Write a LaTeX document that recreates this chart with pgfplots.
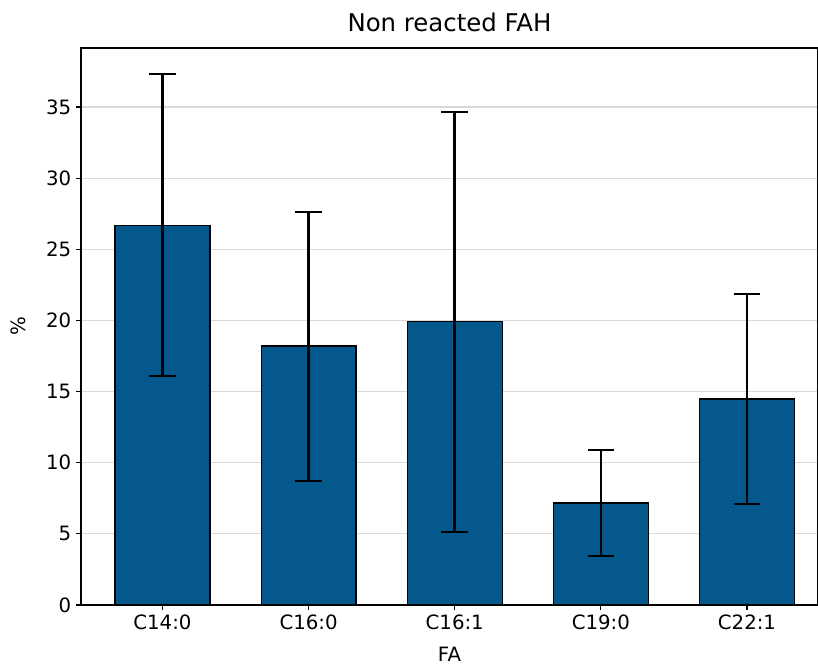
\documentclass[border=0pt]{standalone}
\usepackage{fontspec}
\setmainfont{DejaVu Sans}
\usepackage{pgfplots}
\pgfplotsset{compat=1.18}
\definecolor{barblue}{RGB}{4,88,140}
\begin{document}
\begin{tikzpicture}
\begin{axis}[
  scale only axis,
  width=552.75pt, height=417.75pt,
  xmin=-0.5575, xmax=4.486,
  ymin=0, ymax=39.15,
  xtick={0,1,2,3,4},
  xticklabels={C14:0,C16:0,C16:1,C19:0,C22:1},
  ytick={0,5,10,15,20,25,30,35},
  tick align=outside,
  xtick pos=bottom, ytick pos=left,
  major tick length=3.75pt,
  tick style={black, line width=0.9pt},
  ymajorgrids,
  grid style={gray!30, line width=0.8pt},
  axis line style={line width=0.9pt},
  ticklabel style={font=\fontsize{14.8}{17}\selectfont},
  /pgf/number format/assume math mode=true,
  title={Non reacted FAH},
  title style={font=\fontsize{18.3}{21}\selectfont, at={(axis description cs:0.5,1)}, anchor=center, yshift=13pt},
  xlabel={FA}, ylabel={\%},
  label style={font=\fontsize{14.8}{17}\selectfont},
  xlabel style={at={(axis description cs:0.5,0)}, anchor=center, yshift=-37pt},
  ylabel style={at={(axis description cs:0,0.5)}, anchor=center, rotate=0, yshift=47.25pt},
]
\addplot[ybar, bar width=0.65, fill=barblue, draw=black, line width=0.9pt,
  error bars/.cd, y dir=both, y explicit,
  error bar style={line width=2pt, black},
  error mark options={rotate=90, mark size=10pt, line width=1.5pt, black}]
  coordinates {
  (0,26.7) +- (0,10.6)
  (1,18.2) +- (0,9.45)
  (2,19.9) +- (0,14.75)
  (3,7.17) +- (0,3.7)
  (4,14.48) +- (0,7.35)
  };
\end{axis}
\pgfresetboundingbox
\path[use as bounding box] ([shift={(-60.75pt,-45.75pt)}]current axis.south west) rectangle ([shift={(0pt,36pt)}]current axis.north east);
\end{tikzpicture}
\end{document}
